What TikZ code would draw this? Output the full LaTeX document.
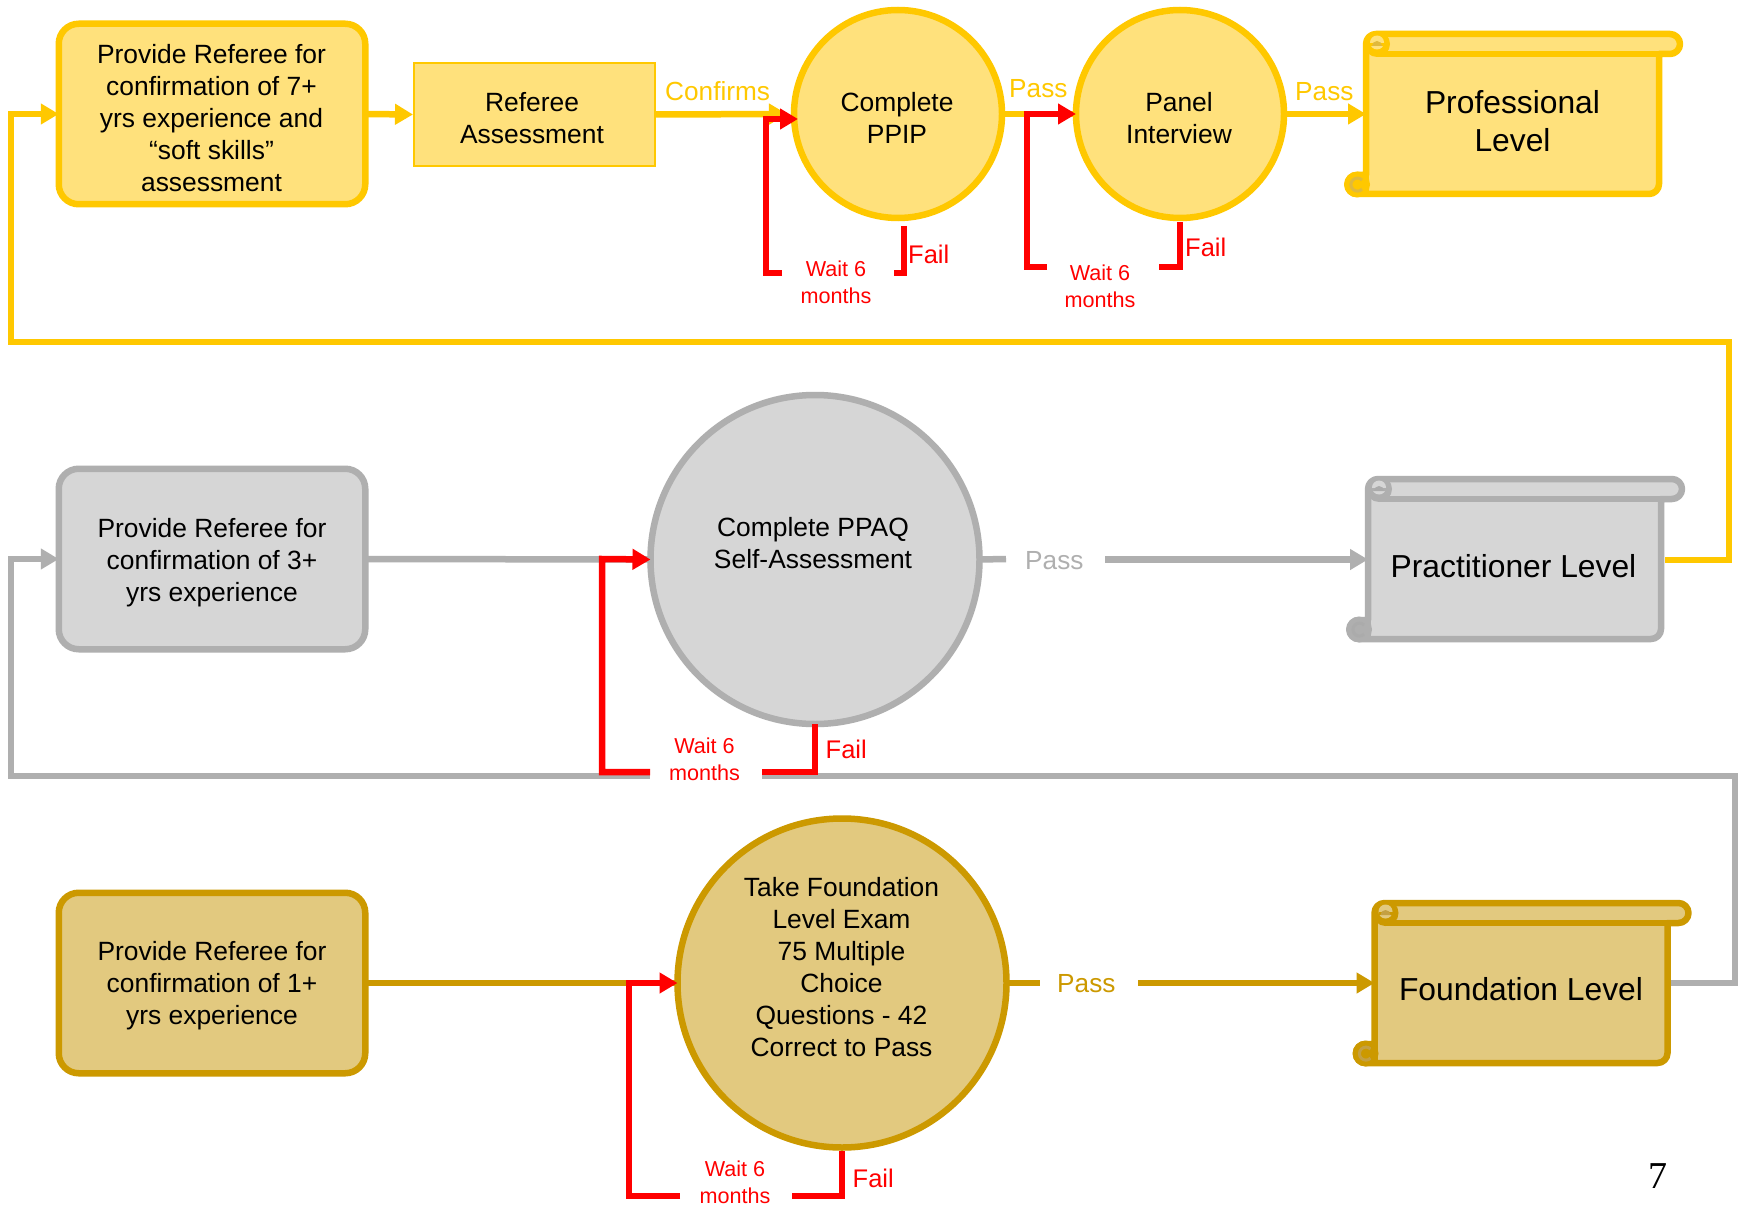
\documentclass[tikz,border=0pt]{standalone}
\usepackage{fontspec}
\setmainfont{Liberation Sans}
\newfontfamily\serifnum{Liberation Serif}
\usetikzlibrary{arrows.meta}
\definecolor{yel}{HTML}{FFC800}
\definecolor{yelf}{HTML}{FFE17C}
\definecolor{yeld}{HTML}{E0B93C}
\definecolor{gry}{HTML}{AFAFAF}
\definecolor{gryf}{HTML}{D6D6D6}
\definecolor{gryd}{HTML}{ABABAB}
\definecolor{gld}{HTML}{CC9900}
\definecolor{gldf}{HTML}{E2C97F}
\definecolor{gldd}{HTML}{C4A042}
\tikzset{
  x=1pt,y=-1pt,
  every node/.style={align=center,inner sep=0pt,text=black},
  main/.style={font=\fontsize{26.4}{32}\selectfont,anchor=base},
  big/.style={font=\fontsize{31.8}{38}\selectfont,anchor=base},
  lab/.style={font=\fontsize{26.2}{30}\selectfont,anchor=base west},
  fail/.style={font=\fontsize{25.5}{30}\selectfont,text=red,anchor=base west},
  wait/.style={font=\fontsize{21.6}{26.5}\selectfont,text=red,anchor=base},
  rbox/.style={draw=#1,line width=6.5pt,rounded corners=20pt,minimum width=306.5pt,minimum height=180.5pt,outer sep=0pt},
  circ/.style={circle,draw=#1,line width=6.5pt,outer sep=0pt},
  ylw/.style={draw=yel,line width=6.5pt},
  gy/.style={draw=gry,line width=6.5pt},
  gd/.style={draw=gld,line width=5.5pt},
  rd/.style={draw=red,line width=6.5pt},
  tipY/.style={-{Triangle[length=18pt,width=20pt]}},
}
% \scrollpic{dx}{dy}{stroke}{fill}{dark}{name}
\newcommand{\scrollpic}[6]{%
\begin{scope}[shift={(#1,#2)}]
 \draw[draw=#3,fill=#4,line width=6.5pt,line join=round]
   (1366,44) arc[start angle=180,end angle=270,radius=10] -- (1670,34)
   arc[start angle=-90,end angle=90,radius=10] -- (1659,54) -- (1659,184)
   arc[start angle=0,end angle=90,radius=10] -- (1357,194)
   arc[start angle=90,end angle=270,radius=9.5] -- (1366,175) -- cycle;
 \draw[draw=#3,line width=6.5pt] (1377,54) -- (1670,54);
 \fill[#3] (1377,44) circle[radius=13];
 \fill[#4] (1377,42.5) circle[radius=7];
 \fill[#3] (1370,43) rectangle (1384,46);
 \fill[#5] (1372,46) arc[start angle=180,end angle=360,radius=5] -- cycle;
 \fill[#3] (1357,184.5) circle[radius=13];
 \draw[draw=#5,line width=3pt] (1362,180) arc[start angle=-45,end angle=-315,radius=6.5];
 \draw[draw=#3,line width=6.5pt] (1366,175) -- (1366,194);
 \node[minimum width=293pt,minimum height=160pt,anchor=south west,outer sep=3pt] (#6) at (1366,194) {};
\end{scope}}
\begin{document}
\begin{tikzpicture}
\useasboundingbox (0,0) rectangle (1739,1206);
\fill[white] (0,0) rectangle (1739,1206);

% ---- free ends of the long return lines
\coordinate (yA) at (11,342);
\coordinate (yB) at (1729,342);
\coordinate (gA) at (11,776);
\coordinate (gB) at (1735,776);

% ---- nodes row 1
\node[rbox=yel,fill=yelf] (p7) at (212,114) {};
\node[main] (tp7) at (211.5,191.5) {Provide Referee for\\confirmation of 7+\\yrs experience and\\“soft skills”\\assessment};
\node[draw=yel,line width=2pt,fill=yelf,minimum width=241pt,minimum height=103pt,outer sep=1pt] (ref) at (534.5,114.5) {};
\node[main] (tref) at (532,144) {Referee\\Assessment};
\node[circ=yel,fill=yelf,minimum size=208pt] (ppip) at (898,114) {};
\node[main] (tppip) at (897,144) {Complete\\PPIP};
\node[circ=yel,fill=yelf,minimum size=208pt] (panel) at (1180,114) {};
\node[main] (tpanel) at (1179,144) {Panel\\Interview};
\scrollpic{0}{0}{yel}{yelf}{yeld}{prof}
\node[big] (tprof) at (1512.5,152) {Professional\\Level};

% ---- nodes row 2
\node[rbox=gry,fill=gryf] (p3) at (212,559) {};
\node[main] (tp3) at (212,601) {Provide Referee for\\confirmation of 3+\\yrs experience};
\node[circ=gry,fill=gryf,minimum size=329pt] (ppaq) at (815,559.5) {};
\node[main] (tppaq) at (813,568) {Complete PPAQ\\Self-Assessment};
\scrollpic{2}{445}{gry}{gryf}{gryd}{prac}
\node[big] (tprac) at (1513.5,577) {Practitioner Level};

% ---- nodes row 3
\node[rbox=gld,fill=gldf] (p1) at (212,983) {};
\node[main] (tp1) at (212,1024) {Provide Referee for\\confirmation of 1+\\yrs experience};
\node[circ=gld,fill=gldf,minimum size=329pt] (exam) at (842,983) {};
\node[main] (texam) at (841.5,1056) {Take Foundation\\Level Exam\\75 Multiple\\Choice\\Questions - 42\\Correct to Pass};
\scrollpic{8.5}{869}{gld}{gldf}{gldd}{fnd}
\node[big] (tfnd) at (1521,1000.5) {Foundation Level};

% ---- yellow connectors
\draw[ylw,tipY] (p7.east) -- (ref.west);
\draw[ylw,tipY] (ref.east) -- ([xshift=-7pt]ppip.west);
\draw[ylw] (ppip.east) -- (panel.west);
\draw[ylw,tipY] (panel.east) -- (prof.west |- panel.east);
\coordinate (pracOut) at (1665,560);
\draw[ylw,tipY] (pracOut) -- (1729,560) -- (yB) -- (yA) -- (11,114) -- (p7.west);

% ---- grey connectors
\coordinate (gp1) at (1006,559);
\coordinate (gp2) at (1105,559.5);
\coordinate (fndOut) at (1671,983);
\draw[gy] (p3.east) -- (ppaq.west);
\draw[gy] (ppaq.east) -- (gp1);
\draw[gy,tipY] (gp2) -- (prac.west |- gp2);
\draw[gy,tipY] (fndOut) -- (1735,983) -- (gB) -- (gA) -- (11,559) -- (p3.west);

% ---- gold connectors
\coordinate (gl1) at (1040,983);
\coordinate (gl2) at (1138,983);
\draw[gd] (p1.east) -- (exam.west);
\draw[gd] (exam.east) -- (gl1);
\draw[gd,tipY] (gl2) -- (fnd.west |- gl2);

% ---- red loops
\coordinate (r1a) at (904,226);\coordinate (r1b) at (894,273);\coordinate (r1c) at (782,273);
\draw[rd] (r1a) -- (904,273) -- (r1b);
\draw[rd,tipY] (r1c) -- (766,273) -- (766,119) -- (798,119);
\coordinate (r2a) at (1180,222);\coordinate (r2b) at (1159,267);\coordinate (r2c) at (1047,267);
\draw[rd] (r2a) -- (1180,267) -- (r2b);
\draw[rd,tipY] (r2c) -- (1027,267) -- (1027,114) -- (panel.west);

\fill[white] (650,770) rectangle (762,780);
\coordinate (r3b) at (762,772);\coordinate (r3c) at (650,772);
\draw[rd] (ppaq.south) -- (815,772) -- (r3b);
\draw[rd,tipY] (r3c) -- (602,772) -- (602,559) -- (ppaq.west);
\coordinate (r4a) at (842,1151);\coordinate (r4b) at (792,1196);\coordinate (r4c) at (680,1196);
\draw[rd] (r4a) -- (842,1196) -- (r4b);
\draw[rd,tipY] (r4c) -- (629,1196) -- (629,983) -- (exam.west);

% ---- labels
\node[lab,text=yel] (lc) at (665,101) {Confirms};
\node[lab,text=yel] (lp1) at (1009,98) {Pass};
\node[lab,text=yel] (lp2) at (1295,101) {Pass};
\node[lab,text=gry] (lp3) at (1025,569) {Pass};
\node[lab,text=gld] (lp4) at (1057,992) {Pass};
\node[fail] (f1) at (908,263) {Fail};
\node[fail] (f2) at (1185,257) {Fail};
\node[fail] (f3) at (825.5,758) {Fail};
\node[fail] (f4) at (852.5,1187) {Fail};
\node[wait] (w1) at (836,303) {Wait 6\\months};
\node[wait] (w2) at (1100,307) {Wait 6\\months};
\node[wait] (w3) at (704.5,780) {Wait 6\\months};
\node[wait] (w4) at (735,1203) {Wait 6\\months};
\node[anchor=base,font=\serifnum\fontsize{38}{40}\selectfont] (pg) at (1658,1188) {7};
\end{tikzpicture}
\end{document}
